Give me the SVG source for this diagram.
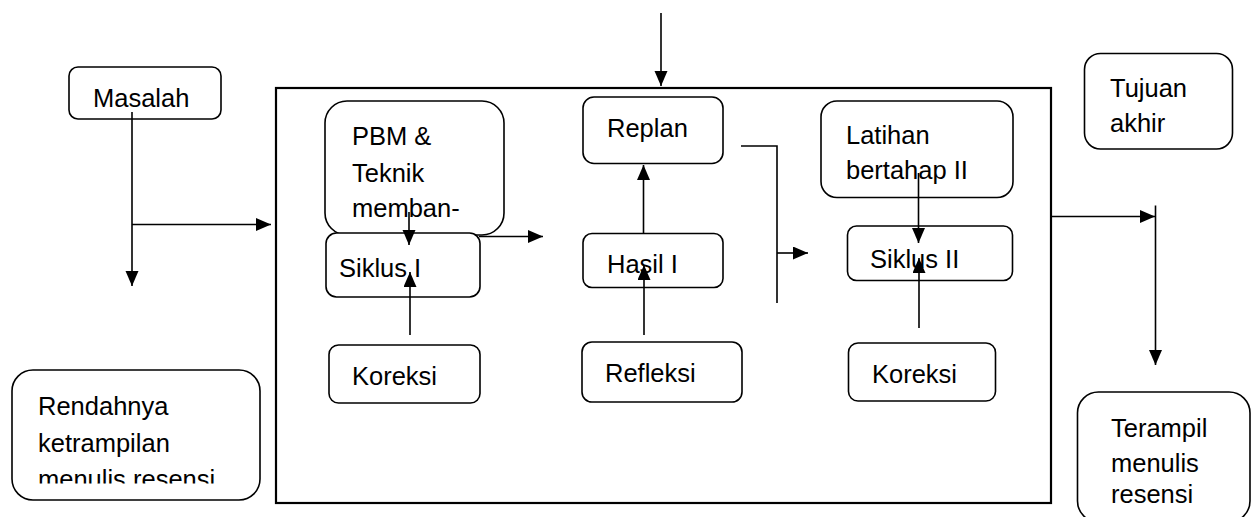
<svg xmlns="http://www.w3.org/2000/svg" width="1252" height="517" viewBox="0 0 1252 517">
<style>
.box{fill:#fff;stroke:#000;stroke-width:1.6}
.frame{fill:none;stroke:#000;stroke-width:2.2}
.t{font-family:"Liberation Sans",Arial,sans-serif;font-size:25.5px;fill:#000}
.c{fill:none;stroke:#000;stroke-width:1.6}
</style>
<defs>
<marker id="ah" markerUnits="userSpaceOnUse" markerWidth="16" markerHeight="14" refX="15" refY="6.5" orient="auto">
<path d="M0,0 L15,6.5 L0,13 Z" fill="#000"/>
</marker>
<clipPath id="clipR"><rect x="0" y="360" width="300" height="123.5"/></clipPath>
</defs>
<rect width="1252" height="517" fill="#fff"/>
<rect id="frame" class="frame" x="276" y="88" width="775" height="415"/>

<g id="masalah"><rect class="box" x="69" y="67" width="152" height="52" rx="9"/><text class="t" x="93" y="107">Masalah</text></g>
<g id="rendahnya"><rect class="box" x="12" y="370" width="248" height="130" rx="21"/>
<g clip-path="url(#clipR)"><text class="t" x="38" y="415">Rendahnya</text><text class="t" x="38" y="451.5">ketrampilan</text><text class="t" x="38" y="488">menulis resensi</text></g></g>
<g id="pbm"><rect class="box" x="325" y="101" width="179" height="134" rx="22"/><text class="t" x="352" y="145">PBM &amp;</text><text class="t" x="352" y="181.5">Teknik</text><text class="t" x="352" y="217">memban-</text></g>
<g id="siklus1"><rect class="box" x="326" y="233" width="154" height="64" rx="10.5"/><text class="t" x="339" y="276.5">Siklus I</text></g>
<g id="koreksi1"><rect class="box" x="329" y="345" width="151" height="58" rx="9.5"/><text class="t" x="352" y="385">Koreksi</text></g>
<g id="replan"><rect class="box" x="583" y="97" width="140" height="66.5" rx="11"/><text class="t" x="607" y="136.5">Replan</text></g>
<g id="hasil1"><rect class="box" x="583" y="233.5" width="140" height="54" rx="9"/><text class="t" x="607" y="273">Hasil I</text></g>
<g id="refleksi"><rect class="box" x="582" y="342" width="160" height="60" rx="10"/><text class="t" x="605" y="381.5">Refleksi</text></g>
<g id="latihan"><rect class="box" x="821" y="101" width="192" height="96.5" rx="16"/><text class="t" x="846" y="144">Latihan</text><text class="t" x="846" y="178.5">bertahap II</text></g>
<g id="siklus2"><rect class="box" x="847.5" y="226" width="165" height="54.5" rx="9"/><text class="t" x="870" y="268">Siklus II</text></g>
<g id="koreksi2"><rect class="box" x="848.5" y="343" width="147" height="58" rx="9.5"/><text class="t" x="872" y="382.5">Koreksi</text></g>
<g id="tujuan"><rect class="box" x="1084.5" y="53.5" width="148" height="95.5" rx="16"/><text class="t" x="1110" y="96.5">Tujuan</text><text class="t" x="1110" y="131.5">akhir</text></g>
<g id="terampil"><rect class="box" x="1077.5" y="392" width="172.5" height="130" rx="21"/><text class="t" x="1111" y="437">Terampil</text><text class="t" x="1111" y="471.5">menulis</text><text class="t" x="1111" y="503">resensi</text></g>

<g id="connectors">
<path class="c" d="M132,112 V286" marker-end="url(#ah)"/>
<path class="c" d="M132,224.5 H271" marker-end="url(#ah)"/>
<path class="c" d="M661,13 V86" marker-end="url(#ah)"/>
<path class="c" d="M409,212 V245" marker-end="url(#ah)"/>
<path class="c" d="M410,335 V272" marker-end="url(#ah)"/>
<path class="c" d="M479,236.5 H543" marker-end="url(#ah)"/>
<path class="c" d="M643.5,233 V165" marker-end="url(#ah)"/>
<path class="c" d="M644,335 V265" marker-end="url(#ah)"/>
<path class="c" d="M741,146 H777 V303"/>
<path class="c" d="M777,253 H808" marker-end="url(#ah)"/>
<path class="c" d="M918.5,173 V243" marker-end="url(#ah)"/>
<path class="c" d="M919,328 V258" marker-end="url(#ah)"/>
<path class="c" d="M1052,216.5 H1155" marker-end="url(#ah)"/>
<path class="c" d="M1155.5,205.5 V365" marker-end="url(#ah)"/>
</g>
</svg>
